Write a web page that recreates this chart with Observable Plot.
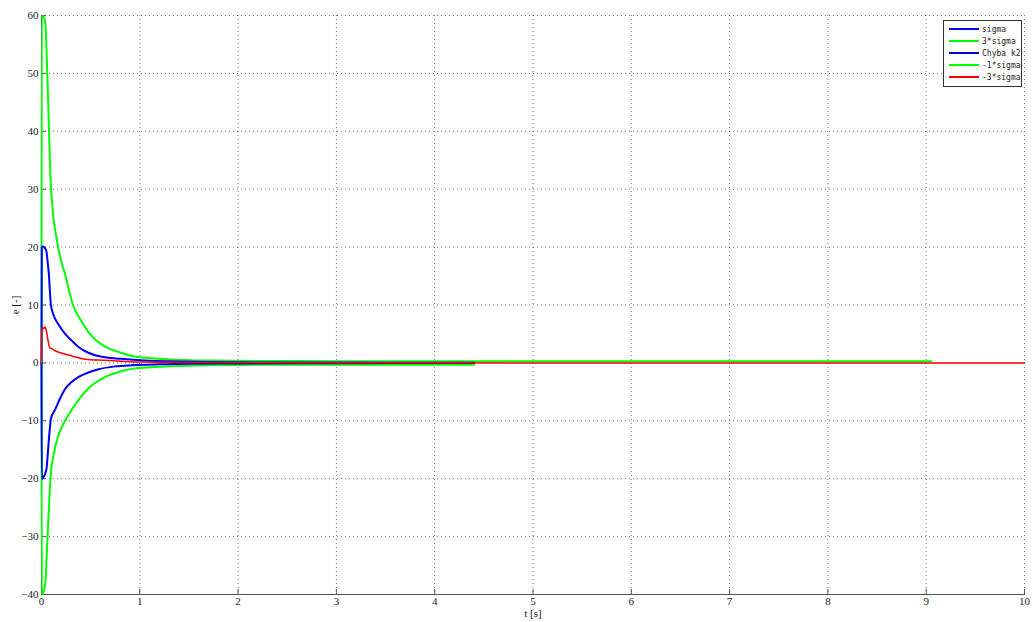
<!DOCTYPE html>
<html>
<head>
<meta charset="utf-8">
<script src="https://cdn.jsdelivr.net/npm/d3@7"></script>
<script src="https://cdn.jsdelivr.net/npm/@observablehq/plot@0.6"></script>
<style>
  html, body { margin: 0; padding: 0; background: #fff; }
  #wrap { position: relative; width: 1032px; height: 622px; }
  #legend { position: absolute; left: 943px; top: 20px; width: 77px; padding: 2px 0 3px 0;
    border: 1px solid #333; background: #fff; font-family: "DejaVu Sans Mono", monospace; font-size: 8px; color: #222; }
  #legend .row { display: flex; align-items: center; height: 12px; }
  #legend .sw { width: 30px; margin: 0 3px 0 5px; height: 0; border-top: 2px solid; }
</style>
</head>
<body>
<div id="wrap"><div id="legend"></div></div>
<script>
// ---- data ----
const legendLabels = ["sigma", "3*sigma", "Chyba k2", "-1*sigma", "-3*sigma"];
const legendColors = ["#0000ff", "#00ff00", "#0000cc", "#00ff00", "#ff0000"];

const xTicks = [0, 1, 2, 3, 4, 5, 6, 7, 8, 9, 10];
const yTicks = [-40, -30, -20, -10, 0, 10, 20, 30, 40, 50, 60];

// upper green (3*sigma)
const tGreenUp = [0, 0.003, 0.02, 0.04, 0.055, 0.07, 0.08, 0.09, 0.105, 0.12, 0.145, 0.17, 0.2, 0.24, 0.28, 0.32, 0.4, 0.47, 0.55, 0.64, 0.8, 0.98, 1.3, 1.7, 2.0, 3.0, 4.4, 6.0, 9.05];
const vGreenUp = [0, 60, 59.8, 58.5, 52, 44, 38, 32.5, 28.3, 25.3, 22.3, 19.9, 17.6, 15.3, 12.5, 10.0, 7.4, 5.5, 4.0, 2.9, 1.8, 1.0, 0.6, 0.4, 0.35, 0.3, 0.3, 0.3, 0.3];

// upper blue (sigma)
const tBlueUp = [0, 0.003, 0.017, 0.035, 0.05, 0.065, 0.075, 0.085, 0.095, 0.12, 0.17, 0.24, 0.31, 0.38, 0.47, 0.6, 0.81, 1.05, 1.4, 1.7, 2.0, 3.0, 4.4];
const vBlueUp = [0, 20, 20.1, 19.8, 19.3, 17.0, 15.3, 12.5, 10.1, 8.4, 6.7, 5.0, 3.8, 2.7, 1.8, 1.1, 0.7, 0.4, 0.25, 0.15, 0.1, 0.05, 0.03];

// lower blue
const tBlueLo = [0, 0.003, 0.017, 0.05, 0.065, 0.075, 0.085, 0.095, 0.14, 0.19, 0.24, 0.3, 0.37, 0.47, 0.58, 0.75, 0.92, 1.2, 1.6, 2.0, 3.0, 4.4];
const vBlueLo = [0, -20, -19.8, -18.4, -15.5, -13.2, -11.3, -9.7, -8.0, -6.1, -4.5, -3.4, -2.5, -1.7, -1.1, -0.6, -0.4, -0.25, -0.15, -0.1, -0.05, -0.03];

// lower green
const tGreenLo = [0, 0.003, 0.017, 0.04, 0.055, 0.068, 0.085, 0.1, 0.12, 0.17, 0.24, 0.31, 0.39, 0.47, 0.64, 0.8, 0.98, 1.3, 1.7, 2.0, 3.0, 4.4];
const vGreenLo = [0, -40, -39.7, -37.9, -32.5, -27.6, -21.8, -18.3, -16.1, -12.6, -10.0, -8.0, -6.1, -4.5, -2.5, -1.5, -0.9, -0.6, -0.4, -0.35, -0.3, -0.3];

// red (error)
const tRed = [0, 0.004, 0.012, 0.02, 0.035, 0.05, 0.065, 0.085, 0.1, 0.14, 0.2, 0.31, 0.47, 0.65, 0.81, 1.0, 1.5, 2.0, 3.0, 5.0, 7.0, 10.0];
const vRed = [0, 5.9, 6.1, 5.9, 6.2, 5.5, 4.0, 2.6, 2.5, 2.1, 1.7, 1.2, 0.6, 0.45, 0.3, 0.15, 0.08, 0.05, 0.02, 0.0, 0.0, 0.0];

// ---- build tables ----
const toRows = (ts, vs) => ts.map((t, i) => ({t, v: vs[i]}));
const greenUp = toRows(tGreenUp, vGreenUp);
const greenLo = toRows(tGreenLo, vGreenLo);
const blueUp = toRows(tBlueUp, vBlueUp);
const blueLo = toRows(tBlueLo, vBlueLo);
const red = toRows(tRed, vRed);

const font = "'Liberation Serif', serif";
const chart = Plot.plot({
  width: 1032,
  height: 622,
  marginLeft: 41,
  marginRight: 8,
  marginTop: 15,
  marginBottom: 28,
  style: {fontFamily: font, fontSize: "11px", background: "#fff", color: "#222"},
  x: {domain: [0, 10]},
  y: {domain: [-40, 60]},
  marks: [
    Plot.gridX(xTicks, {stroke: "#000", strokeOpacity: 0.55, strokeDasharray: "1,3"}),
    Plot.gridY(yTicks, {stroke: "#000", strokeOpacity: 0.55, strokeDasharray: "1,3"}),
    Plot.axisX(xTicks, {anchor: "bottom", tickSize: -5, tickPadding: 8, stroke: "#555", label: "t [s]", labelAnchor: "center", labelArrow: "none", labelOffset: 22}),
    Plot.axisY(yTicks, {anchor: "left", tickSize: -5, tickPadding: 8, stroke: "#555", label: "e [-]", labelAnchor: "center", labelArrow: "none", labelOffset: 30}),
    Plot.frame({anchor: "bottom", stroke: "#555"}),
    Plot.frame({anchor: "left", stroke: "#555"}),
    Plot.line(greenUp, {x: "t", y: "v", stroke: "#00ff00", strokeWidth: 2, curve: "monotone-x"}),
    Plot.line(greenLo, {x: "t", y: "v", stroke: "#00ff00", strokeWidth: 2, curve: "monotone-x"}),
    Plot.line(blueUp, {x: "t", y: "v", stroke: "#0000ff", strokeWidth: 2, curve: "monotone-x"}),
    Plot.line(blueLo, {x: "t", y: "v", stroke: "#0000ee", strokeWidth: 2, curve: "monotone-x"}),
    Plot.line(red, {x: "t", y: "v", stroke: "#ff0000", strokeWidth: 1.5, curve: "monotone-x"})
  ]
});
document.getElementById("wrap").prepend(chart);

const leg = document.getElementById("legend");
legendLabels.forEach((lab, i) => {
  const row = document.createElement("div");
  row.className = "row";
  const sw = document.createElement("span");
  sw.className = "sw";
  sw.style.borderTopColor = legendColors[i];
  const tx = document.createElement("span");
  tx.textContent = lab;
  row.append(sw, tx);
  leg.append(row);
});
</script>
</body>
</html>
